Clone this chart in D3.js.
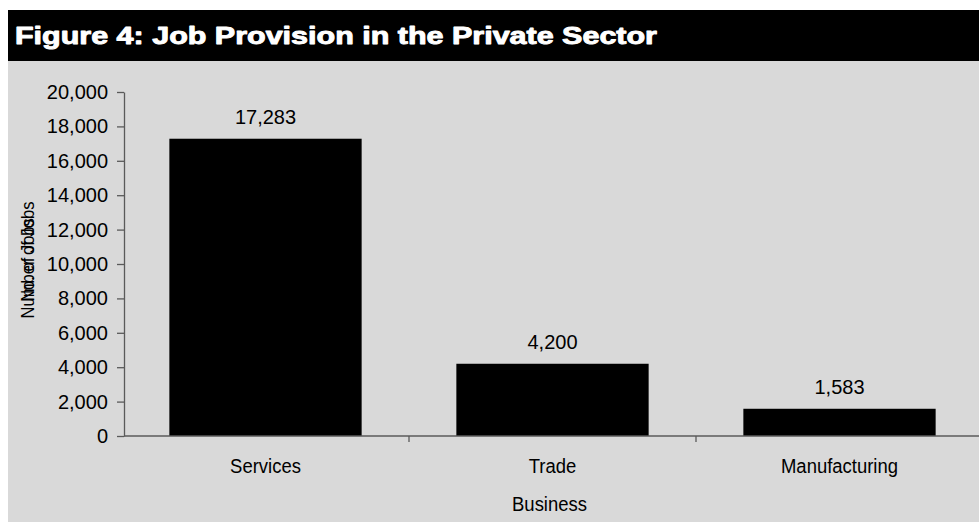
<!DOCTYPE html>
<html><head><meta charset="utf-8">
<script src="https://cdn.jsdelivr.net/npm/d3@7"></script>
<style>
html,body{margin:0;padding:0;background:#fff;}
svg{display:block;font-family:"Liberation Sans",Arial,sans-serif;}
</style></head>
<body>
<svg id="chart" width="979" height="522"></svg>
<script>
const title = "Figure 4: Job Provision in the Private Sector";
const categories = ["Services", "Trade", "Manufacturing"];
const values = [17283, 4200, 1583];
const yTicks = [0, 2000, 4000, 6000, 8000, 10000, 12000, 14000, 16000, 18000, 20000];
const xTitle = "Business";
const yTitles = ["Number of Jobs", "No. of Jobs"];

const W = 979, H = 522;
const svg = d3.select("#chart");
const fmt = d3.format(",");

// panel background
svg.append("rect").attr("x", 8).attr("y", 10).attr("width", W - 8).attr("height", H - 10).attr("fill", "#d9d9d9");
// title bar
svg.append("rect").attr("x", 8).attr("y", 10).attr("width", W - 8).attr("height", 51).attr("fill", "#000");
svg.append("text").attr("x", 15).attr("y", 44).attr("fill", "#fff")
  .attr("font-family", "'Liberation Sans', Arial, sans-serif")
  .attr("font-size", 23).attr("font-weight", "bold")
  .attr("stroke", "#fff").attr("stroke-width", 0.9).attr("stroke-linejoin", "round")
  .attr("textLength", 642).attr("lengthAdjust", "spacingAndGlyphs")
  .text(title);

const y = d3.scaleLinear().domain([0, 20000]).range([436, 92]);
const x = d3.scaleBand().domain(categories).range([122, 983]).paddingInner(0.33).paddingOuter(0.165);

const axisColor = "#5a5a5a";

// y axis
const ya = svg.append("g").attr("transform", "translate(124,0)")
  .call(d3.axisLeft(y).tickValues(yTicks).tickFormat(fmt).tickSize(7).tickPadding(9).tickSizeOuter(0));
ya.select(".domain").attr("stroke", axisColor).attr("stroke-width", 1.3);
ya.selectAll(".tick line").attr("stroke", axisColor).attr("stroke-width", 1.3);
ya.selectAll(".tick text").attr("font-size", 20).attr("fill", "#000").attr("font-family", "Liberation Sans, Arial, sans-serif");

// bars
svg.selectAll("rect.bar").data(values).enter().append("rect").attr("class", "bar")
  .attr("x", (d, i) => x(categories[i]))
  .attr("width", x.bandwidth())
  .attr("y", d => y(d))
  .attr("height", d => y(0) - y(d))
  .attr("fill", "#000");

// x axis line
svg.append("line").attr("x1", 124).attr("x2", W).attr("y1", y(0)).attr("y2", y(0))
  .attr("stroke", axisColor).attr("stroke-width", 1.5);
// x boundary ticks
const step = x.step();
const bounds = categories.slice(1).map(c => x(c) - step * x.paddingInner() / 2);
svg.selectAll("line.xt").data(bounds).enter().append("line").attr("class", "xt")
  .attr("x1", d => d).attr("x2", d => d).attr("y1", y(0)).attr("y2", y(0) + 6)
  .attr("stroke", axisColor).attr("stroke-width", 1.3);

// value labels
svg.selectAll("text.val").data(values).enter().append("text").attr("class", "val")
  .attr("x", (d, i) => x(categories[i]) + x.bandwidth() / 2)
  .attr("y", d => y(d) - 15)
  .attr("text-anchor", "middle").attr("font-size", 20).attr("fill", "#000")
  .text(d => fmt(d));

// category labels
svg.selectAll("text.cat").data(categories).enter().append("text").attr("class", "cat")
  .attr("transform", d => `translate(${x(d) + x.bandwidth() / 2},473) scale(0.88,1)`)
  .attr("text-anchor", "middle").attr("font-size", 21).attr("fill", "#000")
  .text(d => d);

// x title
svg.append("text").attr("transform", `translate(${(124 + W) / 2 - 2},511) scale(0.88,1)`)
  .attr("text-anchor", "middle").attr("font-size", 21).attr("fill", "#000").text(xTitle);

// y titles (overlapping)
svg.selectAll("text.yt").data(yTitles).enter().append("text").attr("class", "yt")
  .attr("transform", "translate(34,260) rotate(-90) scale(0.92,1)")
  .attr("text-anchor", "middle").attr("font-size", 18).attr("fill", "#000")
  .text(d => d);
</script>
</body></html>
